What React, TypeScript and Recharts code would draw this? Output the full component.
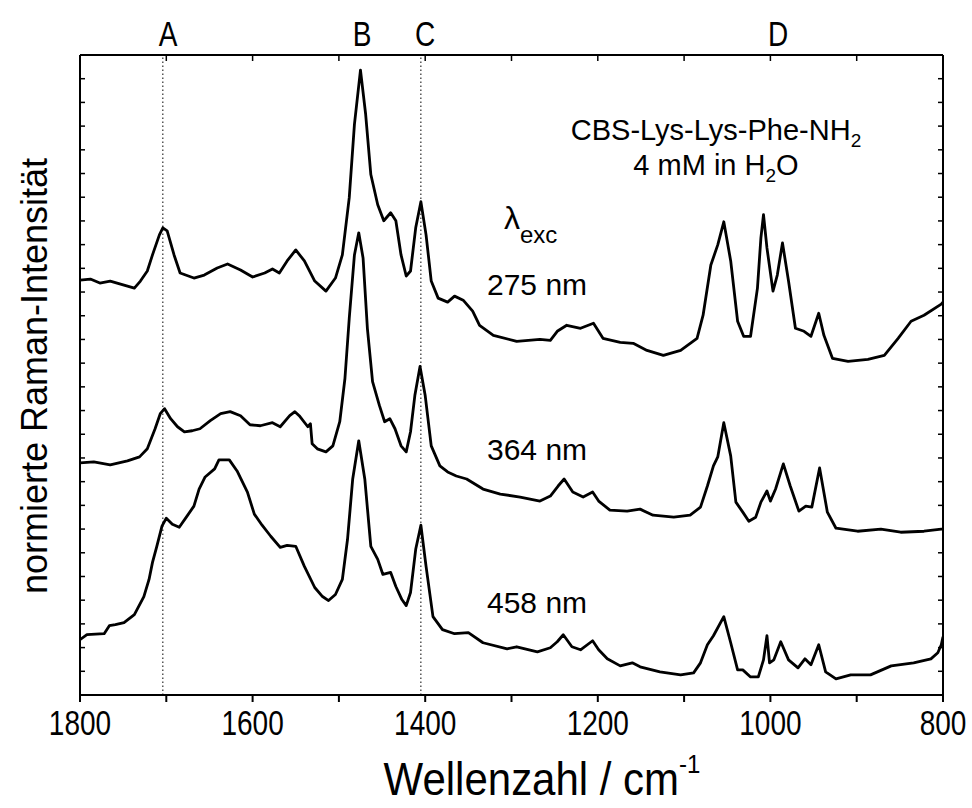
import React from 'react';
import { LineChart, Line, XAxis, YAxis, ReferenceLine } from 'recharts';

// Raman spectra of CBS-Lys-Lys-Phe-NH2 (normalised, offset), wavenumber in cm^-1
const wn275 = [1800,1788,1777,1765,1749,1737,1730,1722,1716,1708,1704,1699,1691,1684,1668,1656,1641,1629,1614,1600,1586,1577,1569,1560,1550,1540,1528,1515,1504,1496,1488,1482,1475,1469,1463,1455,1448,1440,1434,1428,1422,1417,1411,1405,1399,1393,1385,1374,1366,1356,1345,1337,1321,1294,1267,1255,1247,1236,1220,1205,1194,1174,1159,1143,1124,1104,1085,1078,1069,1061,1054,1046,1038,1031,1023,1015,1011,1008,1004,997,992,986,979,971,961,953,944,938,928,910,887,868,852,837,822,802,800];
const int275 = [413,414,410,412,408,405,412,422,438,458,465,462,438,420,415,418,425,429,423,416,420,424,420,432,443,432,412,402,415,438,495,568,622,578,518,488,472,480,472,438,417,422,465,491,458,412,395,391,397,393,382,368,358,352,354,353,362,368,365,370,355,351,350,343,338,343,355,378,428,448,471,432,372,357,357,405,455,478,445,402,418,450,412,365,362,357,380,358,335,332,334,338,355,372,378,389,391];

const wn364 = [1800,1784,1765,1745,1731,1722,1713,1707,1702,1695,1687,1679,1670,1661,1649,1637,1626,1614,1603,1591,1577,1568,1557,1551,1546,1536,1533,1531,1525,1515,1507,1499,1493,1488,1482,1477,1472,1467,1461,1453,1447,1441,1435,1428,1422,1417,1412,1406,1400,1393,1383,1374,1364,1352,1333,1313,1290,1267,1255,1246,1239,1229,1217,1206,1199,1186,1166,1151,1136,1112,1093,1081,1073,1066,1061,1054,1046,1040,1032,1025,1017,1011,1004,1000,994,985,977,967,959,952,943,934,924,899,872,849,822,802,800];
const int364 = [231,232,229,233,237,245,265,280,285,275,267,262,263,265,273,280,282,278,269,268,271,267,278,282,278,267,270,250,245,242,248,272,315,375,438,460,435,365,312,288,272,275,265,248,242,262,298,327,298,248,228,222,218,215,205,200,197,193,198,208,215,202,197,202,193,184,183,185,179,177,179,187,208,228,237,271,238,192,182,173,177,192,203,193,205,230,208,183,188,187,226,182,166,163,165,162,163,165,165];

const wn458 = [1800,1792,1772,1766,1759,1749,1737,1726,1720,1716,1711,1705,1700,1693,1685,1676,1668,1662,1655,1644,1639,1627,1618,1606,1598,1589,1579,1568,1560,1550,1540,1528,1519,1512,1504,1496,1490,1484,1477,1470,1463,1455,1449,1440,1434,1427,1422,1417,1411,1405,1399,1391,1380,1366,1350,1333,1305,1294,1270,1255,1247,1240,1230,1220,1206,1199,1189,1174,1160,1151,1128,1104,1089,1081,1073,1066,1054,1046,1038,1032,1023,1014,1008,1004,1001,996,988,979,968,960,953,944,936,924,907,884,860,834,814,806,802,800];
const int458 = [55,60,61,69,70,72,80,98,115,132,148,168,176,170,167,178,188,205,217,225,234,234,223,202,180,169,158,147,149,148,128,107,98,94,100,115,155,215,253,215,148,135,120,122,108,95,89,102,145,169,128,78,65,61,62,52,46,48,43,47,53,60,48,45,54,45,36,29,32,28,23,20,22,32,50,59,78,52,25,25,18,18,35,59,32,35,53,35,27,36,30,50,23,16,20,20,29,32,36,42,50,58];

const xTicks = [800, 900, 1000, 1100, 1200, 1300, 1400, 1500, 1600, 1700, 1800];
const xTickLabels = [800, 1000, 1200, 1400, 1600, 1800];
const markerLines = [1704, 1405];
const bandLabels = ['A', 'B', 'C', 'D'];
const excitationLabels = ['275 nm', '364 nm', '458 nm'];

const Y_MAX = 637;
const yTicks = Array.from({ length: 28 }, (_, i) => (i * Y_MAX) / 27);

const toData = (wn: number[], iv: number[]) => wn.map((w, i) => ({ x: w, y: iv[i] }));
const spectra = [
  { key: 's275', data: toData(wn275, int275) },
  { key: 's364', data: toData(wn364, int364) },
  { key: 's458', data: toData(wn458, int458) },
];

const FONT = '"Liberation Sans", Arial, Helvetica, sans-serif';

const BottomTick = (props: any) => {
  const { x, y, payload } = props;
  if (!xTickLabels.includes(payload.value)) return <g />;
  return (
    <g transform={`translate(${x},${y + 31}) scale(1,1.25)`}>
      <text x={0} y={0} textAnchor="middle" fontSize={28} fontFamily={FONT} fill="#000">
        {payload.value}
      </text>
    </g>
  );
};

const NoTick = () => <g />;

const bandPos = [168, 362, 425, 778];
const excPos = [295, 460, 613];

export default function App() {
  return (
    <div style={{ position: 'absolute', left: 0, top: 0, width: 972, height: 808, background: '#fff' }}>
      <LineChart
        width={972}
        height={808}
        margin={{ top: 55, right: 29, bottom: 73, left: 80 }}
      >
        <XAxis
          xAxisId="bottom"
          dataKey="x"
          type="number"
          domain={[800, 1800]}
          reversed
          ticks={xTicks}
          interval={0}
          height={40}
          tickSize={7}
          tickMargin={2}
          axisLine={{ stroke: '#000', strokeWidth: 2 }}
          tickLine={{ stroke: '#000', strokeWidth: 2 }}
          tick={<BottomTick />}
          allowDataOverflow
        />
        <XAxis
          xAxisId="top"
          dataKey="x"
          orientation="top"
          type="number"
          domain={[800, 1800]}
          reversed
          ticks={xTicks}
          interval={0}
          height={1}
          mirror
          tickSize={6}
          tick={<NoTick />}
          axisLine={{ stroke: '#000', strokeWidth: 2 }}
          tickLine={{ stroke: '#000', strokeWidth: 1.5 }}
          allowDataOverflow
        />
        <YAxis
          yAxisId="left"
          type="number"
          domain={[0, Y_MAX]}
          ticks={yTicks}
          interval={0}
          width={1}
          mirror
          tickSize={5}
          tick={<NoTick />}
          axisLine={{ stroke: '#000', strokeWidth: 2 }}
          tickLine={{ stroke: '#000', strokeWidth: 1.5 }}
          allowDataOverflow
        />
        <YAxis
          yAxisId="right"
          orientation="right"
          type="number"
          domain={[0, Y_MAX]}
          ticks={yTicks}
          interval={0}
          width={1}
          mirror
          tickSize={5}
          tick={<NoTick />}
          axisLine={{ stroke: '#000', strokeWidth: 2 }}
          tickLine={{ stroke: '#000', strokeWidth: 1.5 }}
          allowDataOverflow
        />
        {markerLines.map((m) => (
          <ReferenceLine
            key={m}
            x={m}
            xAxisId="bottom"
            yAxisId="left"
            stroke="#000"
            strokeWidth={1}
            strokeDasharray="1.5 2.5"
          />
        ))}
        {/* invisible series bound to the mirrored frame axes so they are drawn */}
        <Line
          data={spectra[0].data}
          dataKey="y"
          xAxisId="top"
          yAxisId="right"
          type="linear"
          dot={false}
          activeDot={false}
          stroke="transparent"
          strokeWidth={0}
          isAnimationActive={false}
        />
        {spectra.map((s) => (
          <Line
            key={s.key}
            data={s.data}
            dataKey="y"
            xAxisId="bottom"
            yAxisId="left"
            type="linear"
            dot={false}
            activeDot={false}
            stroke="#000"
            strokeWidth={2.8}
            strokeLinejoin="round"
            isAnimationActive={false}
          />
        ))}
      </LineChart>
      <svg
        width={972}
        height={808}
        style={{ position: 'absolute', left: 0, top: 0, pointerEvents: 'none' }}
        fontFamily={FONT}
      >
        {bandLabels.map((b, i) => (
          <g key={b} transform={`translate(${bandPos[i]},46) scale(1,1.25)`}>
            <text x={0} y={0} textAnchor="middle" fontSize={28} fill="#000">{b}</text>
          </g>
        ))}
        <text x={716} y={140} textAnchor="middle" fontSize={29} fill="#000">
          CBS-Lys-Lys-Phe-NH<tspan dy={7} fontSize={19}>2</tspan>
        </text>
        <text x={716} y={175} textAnchor="middle" fontSize={29} fill="#000">
          4 mM in H<tspan dy={7} fontSize={19}>2</tspan><tspan dy={-7}>O</tspan>
        </text>
        <text x={504} y={229} fontSize={32} fill="#000">
          λ<tspan dy={14} fontSize={24}>exc</tspan>
        </text>
        {excitationLabels.map((t, i) => (
          <text key={t} x={487} y={excPos[i]} fontSize={30} fill="#000">{t}</text>
        ))}
        <g transform="translate(542,795) scale(1,1.1)">
          <text x={0} y={0} textAnchor="middle" fontSize={42} fill="#000">
            Wellenzahl / cm<tspan dy={-20} fontSize={24}>-1</tspan>
          </text>
        </g>
        <text
          transform="translate(47,376) rotate(-90)"
          x={0}
          y={0}
          textAnchor="middle"
          fontSize={36}
          fill="#000"
        >
          normierte Raman-Intensität
        </text>
      </svg>
    </div>
  );
}
